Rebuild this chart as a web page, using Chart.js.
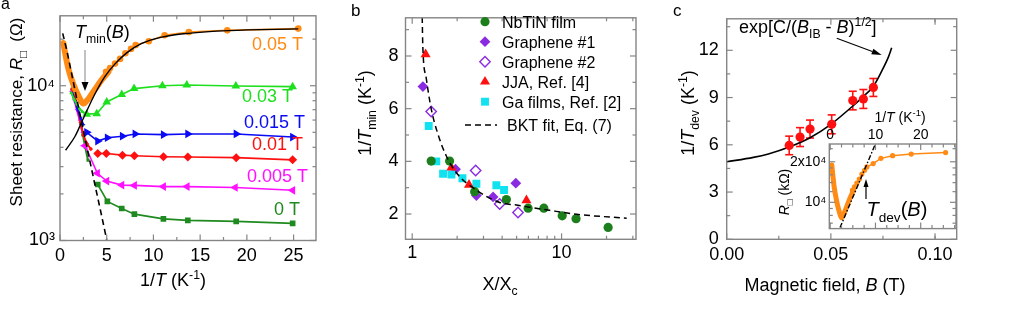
<!DOCTYPE html>
<html><head><meta charset="utf-8">
<script src="https://cdn.jsdelivr.net/npm/chart.js@4.4.1/dist/chart.umd.min.js"></script>
<style>
html,body{margin:0;padding:0;background:#fff;}
#wrap{position:relative;width:1035px;height:316px;overflow:hidden;background:#fff;}
canvas{position:absolute;}
</style></head><body>
<div id="wrap">
<canvas id="ca" width="345" height="316" style="left:0;top:0;width:345px;height:316px"></canvas>
<canvas id="cb" width="345" height="316" style="left:345px;top:0;width:345px;height:316px"></canvas>
<canvas id="cc" width="385" height="316" style="left:650px;top:0;width:385px;height:316px"></canvas>
<canvas id="ci" width="190" height="140" style="left:770px;top:100px;width:190px;height:140px"></canvas>
</div>
<script>
// ================= DATA =================
// ---- panel a: sheet resistance vs 1/T ----
const aXTicks = [0, 5, 10, 15, 20, 25];
const aXTickLabels = ['0', '5', '10', '15', '20', '25'];
const aXMinor = [2.5, 7.5, 12.5, 17.5, 22.5];
const aYTicks = [1000, 10000];
const aYTickLabels = ['10³', '10⁴'];
const aYMinor = [2000, 3000, 4000, 5000, 6000, 7000, 8000, 9000, 20000];

const a005DenseX = [0.36, 0.54, 0.89, 1.43, 1.96, 2.5, 3.04, 3.75, 4.46, 5.18];
const a005DenseY = [18900, 16400, 12900, 10200, 8630, 7670, 8230, 9480, 10900, 12300];
const a005X = [4.93, 5.36, 5.89, 6.43, 7.0, 7.6, 8.1, 9.5, 11.2, 13.8, 17.9, 25.5];
const a005Y = [12300, 13000, 13900, 14900, 16200, 17300, 18300, 19400, 21200, 22200, 22800, 23400];

const a003DenseX = [1.2, 1.5, 1.8, 2.1, 2.4, 2.7];
const a003DenseY = [9000, 8200, 7600, 7100, 6800, 6600];
const a003X = [2.86, 3.93, 5.0, 6.61, 7.93, 10.96, 13.57, 18.82, 24.9];
const a003Y = [6550, 6600, 7850, 8770, 9580, 10000, 10100, 9960, 9860];

const a0015DenseX = [1.3, 1.6, 1.9, 2.2, 2.5];
const a0015DenseY = [9000, 8000, 7000, 6200, 5600];
const a0015X = [2.86, 4.04, 5.07, 6.68, 8.04, 11.07, 13.68, 18.86, 24.9];
const a0015Y = [5000, 4390, 4610, 4720, 4880, 4830, 4880, 4880, 4660];

const a001DenseX = [1.3, 1.6, 1.9, 2.2, 2.5, 2.9, 3.3];
const a001DenseY = [9500, 8500, 7200, 5800, 4800, 4200, 3900];
const a001X = [4.04, 4.96, 6.68, 7.96, 11.07, 13.68, 18.86, 24.9];
const a001Y = [3650, 3650, 3560, 3530, 3480, 3460, 3430, 3320];

const a0005DenseX = [1.2, 1.5, 1.8, 2.1, 2.4];
const a0005DenseY = [9200, 8200, 7000, 6000, 5000];
const a0005X = [2.68, 4.0, 5.0, 6.61, 7.96, 11.07, 13.6, 18.75, 24.9];
const a0005Y = [4100, 2720, 2420, 2280, 2270, 2230, 2230, 2200, 2110];

const a0DenseX = [1.3, 1.6, 1.9, 2.2, 2.45, 2.7, 3.0];
const a0DenseY = [9500, 8400, 7000, 5700, 4800, 4000, 3300];
const a0X = [4.04, 5.07, 6.61, 7.96, 11.07, 13.68, 18.86, 24.9];
const a0Y = [2300, 1790, 1610, 1480, 1380, 1350, 1330, 1290];

const aFitX = [0.6, 1.6, 2.14, 2.68, 3.75, 4.82, 5.89, 7.14, 8.75, 10.9, 13.75, 18, 25.5];
const aFitY = [3830, 4700, 5500, 6500, 8870, 11480, 13840, 16300, 18750, 20600, 21800, 22700, 23300];
const aDashX = [0.29, 0.75, 1.29, 1.93, 2.57, 3.21, 3.86, 4.45, 5.0];
const aDashY = [21800, 16700, 11600, 7500, 4920, 3230, 2120, 1450, 1010];

// ---- panel b: 1/Tmin vs X/Xc ----
const bXTicks = [1, 10];
const bXTickLabels = ['1', '10'];
const bXMinor = [2, 3, 4, 5, 6, 7, 8, 9, 20, 30];
const bYTicks = [2, 4, 6, 8];
const bYTickLabels = ['2', '4', '6', '8'];
const bYMinor = [1, 3, 5, 7, 9];

const bNbTiNX = [1.34, 1.78, 2.62, 4.27, 5.97, 7.61, 10.1, 12.5, 20.5];
const bNbTiNY = [4.01, 4.01, 2.85, 2.55, 2.22, 2.22, 1.93, 1.82, 1.49];
const bGr1X = [1.18, 1.95, 2.69, 3.48, 4.94];
const bGr1Y = [6.84, 3.70, 2.70, 2.65, 3.17];
const bGr2X = [1.34, 2.66, 3.85, 5.11];
const bGr2Y = [5.89, 3.65, 2.38, 2.06];
const bJJAX = [1.23, 1.83, 2.40, 5.82];
const bJJAY = [8.06, 3.76, 3.11, 2.52];
const bGaX = [1.29, 1.45, 1.61, 1.83, 2.17, 2.69, 3.66, 4.12];
const bGaY = [5.34, 4.00, 3.53, 3.50, 3.36, 3.15, 3.09, 2.91];
const bFitX = [1.167, 1.178, 1.241, 1.341, 1.486, 1.69, 2.02, 2.69, 3.85, 4.99, 8.3, 12.6, 27.3];
const bFitY = [9.48, 8.35, 7.17, 5.99, 5.04, 4.21, 3.50, 2.91, 2.44, 2.34, 2.14, 1.99, 1.84];
const bLegend = ['NbTiN film', 'Graphene #1', 'Graphene #2', 'JJA, Ref. [4]', 'Ga films, Ref. [2]', 'BKT fit, Eq. (7)'];

// ---- panel c: 1/Tdev vs B ----
const cXTicks = [0, 0.05, 0.10];
const cXTickLabels = ['0.00', '0.05', '0.10'];
const cXMinor = [0.025, 0.075, 0.1];
const cYTicks = [0, 3, 6, 9, 12];
const cYTickLabels = ['0', '3', '6', '9', '12'];
const cYMinor = [1.5, 4.5, 7.5, 10.5, 13.5];
const cB = [0.030, 0.0352, 0.040, 0.0504, 0.0605, 0.0656, 0.0704];
const cInvT = [5.96, 6.49, 7.00, 7.30, 8.81, 8.91, 9.64];
const cErr = [0.59, 0.60, 0.57, 0.60, 0.59, 0.60, 0.57];
const cFitX = [0, 0.0128, 0.02, 0.03, 0.04, 0.05, 0.06, 0.065, 0.0704, 0.0744, 0.0776, 0.0792];
const cFitY = [4.92, 5.2, 5.42, 5.86, 6.45, 7.3, 8.4, 9.0, 9.72, 10.68, 11.57, 12.16];

// ---- inset of c ----
const iXTicks = [0, 10, 20];
const iXTickLabels = ['0', '10', '20'];
const iXMinor = [2.5, 5, 7.5, 12.5, 15, 17.5, 22.5, 25, 27.5];
const iYTicks = [10000, 20000];
const iYTickLabels = ['10⁴', '2x10⁴'];
const iYMinor = [7000, 8000, 9000, 12000, 14000, 16000, 18000, 25000];
const iDashX = [2.17, 9.9];
const iDashY = [6490, 26700];

// ================= HELPERS =================
const FONT = '"Liberation Sans", Arial, Helvetica, sans-serif';
Chart.defaults.font.family = FONT;
Chart.defaults.color = '#000';
const pts = (xs, ys) => xs.map((x, i) => ({x: x, y: ys[i]}));
const GRAY = '#858585';

function drawRich(ctx, runs, x, y, o) {
  const size = o.size || 18;
  ctx.save();
  ctx.translate(x, y);
  if (o.rot) ctx.rotate(o.rot);
  const segs = runs.map(r => {
    if (typeof r === 'string') r = {t: r};
    const s = (r.sub || r.sup) ? size * 0.68 : size;
    const f = (r.i ? 'italic ' : '') + s + 'px ' + FONT;
    ctx.font = f;
    return {t: r.t, f: f, w: ctx.measureText(r.t).width, dy: r.sub ? size * 0.3 : (r.sup ? -size * 0.4 : 0)};
  });
  const total = segs.reduce((a, s) => a + s.w, 0);
  let cx = o.align === 'center' ? -total / 2 : (o.align === 'right' ? -total : 0);
  ctx.fillStyle = o.color || '#000';
  ctx.textBaseline = 'alphabetic';
  ctx.textAlign = 'left';
  for (const s of segs) { ctx.font = s.f; ctx.fillText(s.t, cx, s.dy); cx += s.w; }
  ctx.restore();
}
function line(ctx, x1, y1, x2, y2) { ctx.beginPath(); ctx.moveTo(x1, y1); ctx.lineTo(x2, y2); ctx.stroke(); }
function arrow(ctx, x1, y1, x2, y2, color, headL, headW, lineColor) {
  ctx.save();
  ctx.strokeStyle = lineColor || color; ctx.fillStyle = color; ctx.lineWidth = 1.2;
  const ang = Math.atan2(y2 - y1, x2 - x1);
  const bx = x2 - Math.cos(ang) * headL, by = y2 - Math.sin(ang) * headL;
  line(ctx, x1, y1, bx, by);
  ctx.beginPath();
  ctx.moveTo(x2, y2);
  ctx.lineTo(bx + Math.sin(ang) * headW / 2, by - Math.cos(ang) * headW / 2);
  ctx.lineTo(bx - Math.sin(ang) * headW / 2, by + Math.cos(ang) * headW / 2);
  ctx.closePath(); ctx.fill();
  ctx.restore();
}

// frame + inward ticks + texts
function panelPlugin(spec) {
  return {
    id: 'panel_' + spec.name,
    beforeDatasetsDraw(chart) {
      const ctx = chart.ctx, a = chart.chartArea;
      if (spec.bg) { ctx.save(); ctx.fillStyle = '#fff'; ctx.fillRect(a.left, a.top, a.right - a.left, a.bottom - a.top); ctx.restore(); }
      if (spec.under) { ctx.save(); ctx.translate(-spec.ox, -spec.oy); spec.under(ctx, chart); ctx.restore(); }
    },
    afterDatasetsDraw(chart) {
      const ctx = chart.ctx, a = chart.chartArea;
      const xs = chart.scales.x, ys = chart.scales.y;
      ctx.save();
      ctx.strokeStyle = GRAY; ctx.lineWidth = 1.4;
      ctx.strokeRect(a.left, a.top, a.right - a.left, a.bottom - a.top);
      ctx.lineWidth = 1.2;
      const tx = (vals, len) => vals.forEach(v => {
        if (v < xs.min || v > xs.max) return;
        const p = xs.getPixelForValue(v);
        line(ctx, p, a.bottom, p, a.bottom - len); line(ctx, p, a.top, p, a.top + len);
      });
      const ty = (vals, len) => vals.forEach(v => {
        if (v < ys.min || v > ys.max) return;
        const p = ys.getPixelForValue(v);
        line(ctx, a.left, p, a.left + len, p); line(ctx, a.right, p, a.right - len, p);
      });
      tx(spec.xMajor, 6); tx(spec.xMinor, 3.5); ty(spec.yMajor, 6); ty(spec.yMinor, 3.5);
      ctx.restore();
      if (spec.texts) { ctx.save(); ctx.translate(-spec.ox, -spec.oy); spec.texts(ctx, chart); ctx.restore(); }
    }
  };
}

function scaleCfg(type, min, max, ticks, labels, fitSize, isX, fontSize, pad, position) {
  const c = {
    type: type, min: min, max: max,
    grid: {display: false, drawTicks: false}, border: {display: false},
    afterBuildTicks: s => { s.ticks = ticks.map(v => ({value: v})); },
    ticks: {font: {size: fontSize, family: FONT}, color: '#000', padding: pad, autoSkip: false, maxRotation: 0,
            callback: (v, i) => labels[i]},
  };
  if (position) c.position = position;
  if (isX) c.afterFit = s => { s.height = fitSize; }; else c.afterFit = s => { s.width = fitSize; };
  return c;
}
const baseOpts = (pad) => ({
  responsive: false, animation: false, devicePixelRatio: 1,
  layout: {padding: pad},
  plugins: {legend: {display: false}, tooltip: {enabled: false}},
  elements: {line: {tension: 0}},
});

// colors
const ORANGE = '#ff8a14', LGREEN = '#1fe01f', BLUE = '#0a0af5', RED = '#ff1010', MAG = '#ff10ff', DGREEN = '#1f8a1f';
const PURPLE = '#8a2be2', CYAN = '#12e2ef', BGREEN = '#1c7f1c';

function dense(xs, ys, color, style, rot) {
  return {data: pts(xs, ys), showLine: true, borderColor: color, backgroundColor: color, borderWidth: 2,
          pointStyle: style, pointRotation: rot || 0, pointRadius: 2.2, pointBorderWidth: 0};
}
function sparse(xs, ys, color, style, r, rot) {
  return {data: pts(xs, ys), showLine: true, borderColor: color, backgroundColor: color, borderWidth: 1.6,
          pointStyle: style, pointRotation: rot || 0, pointRadius: r, pointBorderWidth: 0};
}

// ================= PANEL A =================
new Chart(document.getElementById('ca'), {
  type: 'scatter',
  data: {datasets: [
    {data: pts(aDashX, aDashY), showLine: true, borderColor: '#000', borderWidth: 1.6, borderDash: [6, 4], pointRadius: 0},
    {data: pts(aFitX, aFitY), showLine: true, borderColor: '#000', borderWidth: 1.4, pointRadius: 0, cubicInterpolationMode: 'monotone'},
    {data: pts(a005DenseX, a005DenseY), showLine: true, borderColor: ORANGE, borderWidth: 6, pointRadius: 0, borderCapStyle: 'round', borderJoinStyle: 'round', cubicInterpolationMode: 'monotone'},
    sparse(a005X, a005Y, ORANGE, 'circle', 3.3),
    sparse(a003X, a003Y, LGREEN, 'triangle', 5),
    dense(a003DenseX, a003DenseY, LGREEN, 'triangle'),
    sparse(a0015X, a0015Y, BLUE, 'triangle', 5, 90),
    dense(a0015DenseX, a0015DenseY, BLUE, 'triangle', 90),
    sparse(a001X, a001Y, RED, 'rectRot', 4.5),
    dense(a001DenseX, a001DenseY, RED, 'rectRot'),
    sparse(a0005X, a0005Y, MAG, 'triangle', 5, -90),
    dense(a0005DenseX, a0005DenseY, MAG, 'triangle', -90),
    sparse(a0X, a0Y, DGREEN, 'rect', 4),
    dense(a0DenseX, a0DenseY, DGREEN, 'rect'),
  ]},
  options: Object.assign(baseOpts({left: 0, right: 29, top: 2.5, bottom: 0}), {
    scales: {
      x: scaleCfg('linear', 0, 27.4, aXTicks, aXTickLabels, 75.5, true, 18, 5),
      y: scaleCfg('logarithmic', 1000, 28300, aYTicks, aYTickLabels, 60, false, 18, 5),
    }
  }),
  plugins: [panelPlugin({name: 'a', ox: 0, oy: 0, xMajor: aXTicks, xMinor: aXMinor, yMajor: aYTicks, yMinor: aYMinor,
    texts(ctx) {
      drawRich(ctx, ['a'], 1, 9, {size: 16});
      drawRich(ctx, ['Sheet resistance, ', {t: 'R', i: 1}, {t: '□', sub: 1}, '  (Ω)'], 22, 112, {size: 17, align: 'center', rot: -Math.PI / 2});
      drawRich(ctx, ['1/', {t: 'T', i: 1}, ' (K', {t: '-1', sup: 1}, ')'], 173, 286, {size: 18, align: 'center'});
      drawRich(ctx, ['0.05 T'], 303, 50, {size: 18, align: 'right', color: ORANGE});
      drawRich(ctx, ['0.03 T'], 293, 101.5, {size: 18, align: 'right', color: LGREEN});
      drawRich(ctx, ['0.015 T'], 305, 128, {size: 18, align: 'right', color: BLUE});
      drawRich(ctx, ['0.01 T'], 303, 150, {size: 18, align: 'right', color: RED});
      drawRich(ctx, ['0.005 T'], 308, 181.5, {size: 18, align: 'right', color: MAG});
      drawRich(ctx, ['0 T'], 300, 215, {size: 18, align: 'right', color: DGREEN});
      drawRich(ctx, [{t: 'T', i: 1}, {t: 'min', sub: 1}, '(', {t: 'B', i: 1}, ')'], 75, 38, {size: 18});
      arrow(ctx, 85, 50, 85, 91, '#000', 9, 7, '#999');
    }
  })]
});

// ================= PANEL B =================
const bSets = [
  {label: bLegend[5], data: pts(bFitX, bFitY), showLine: true, borderColor: '#000', borderWidth: 1.5, borderDash: [6, 4], pointRadius: 0, cubicInterpolationMode: 'monotone'},
  {label: bLegend[0], data: pts(bNbTiNX, bNbTiNY), backgroundColor: BGREEN, borderColor: BGREEN, pointStyle: 'circle', pointRadius: 4.6, pointBorderWidth: 0},
  {label: bLegend[3], data: pts(bJJAX, bJJAY), backgroundColor: RED, borderColor: RED, pointStyle: 'triangle', pointRadius: 5.8, pointBorderWidth: 0},
  {label: bLegend[4], data: pts(bGaX, bGaY), backgroundColor: CYAN, borderColor: CYAN, pointStyle: 'rect', pointRadius: 5.6, pointBorderWidth: 0},
  {label: bLegend[2], data: pts(bGr2X, bGr2Y), backgroundColor: '#fff', borderColor: PURPLE, pointStyle: 'rectRot', pointRadius: 5.2, pointBorderWidth: 1.4},
  {label: bLegend[1], data: pts(bGr1X, bGr1Y), backgroundColor: PURPLE, borderColor: PURPLE, pointStyle: 'rectRot', pointRadius: 5.4, pointBorderWidth: 0},
];
new Chart(document.getElementById('cb'), {
  type: 'scatter',
  data: {datasets: bSets},
  options: Object.assign(baseOpts({left: 0, right: 54, top: 2.5, bottom: 0}), {
    scales: {
      x: scaleCfg('logarithmic', 0.902, 31.5, bXTicks, bXTickLabels, 76.7, true, 18, 3),
      y: scaleCfg('linear', 1.04, 9.45, bYTicks, bYTickLabels, 60.5, false, 18, 7),
    }
  }),
  plugins: [panelPlugin({name: 'b', ox: 345, oy: 0, xMajor: bXTicks, xMinor: bXMinor, yMajor: bYTicks, yMinor: bYMinor,
    texts(ctx, chart) {
      drawRich(ctx, ['b'], 351, 16, {size: 17});
      drawRich(ctx, ['1/', {t: 'T', i: 1}, {t: 'min', sub: 1}, ' (K', {t: '-1', sup: 1}, ')'], 371, 113, {size: 18, align: 'center', rot: -Math.PI / 2});
      drawRich(ctx, ['X/X', {t: 'c', sub: 1}], 500, 290, {size: 18, align: 'center'});
      // legend built from dataset styles
      const order = [1, 5, 4, 2, 3];
      order.forEach((di, k) => {
        const ds = chart.data.datasets[di];
        const y = 21.7 + 20 * k;
        ctx.save();
        ctx.fillStyle = ds.backgroundColor; ctx.strokeStyle = ds.borderColor; ctx.lineWidth = ds.pointBorderWidth || 0.01;
        Chart.helpers.drawPoint(ctx, {pointStyle: ds.pointStyle, radius: ds.pointRadius, rotation: 0, borderWidth: ds.pointBorderWidth || 0}, 485, y);
        ctx.restore();
        drawRich(ctx, [ds.label], 502, y + 6, {size: 16});
      });
      ctx.save(); ctx.strokeStyle = '#000'; ctx.lineWidth = 1.5; ctx.setLineDash([6, 4]);
      line(ctx, 465, 125, 497, 125); ctx.restore();
      drawRich(ctx, [bSets[0].label], 507, 131, {size: 16});
    }
  })]
});

// ================= PANEL C =================
new Chart(document.getElementById('cc'), {
  type: 'scatter',
  data: {datasets: [
    {data: pts(cB, cInvT), backgroundColor: RED, borderColor: RED, pointStyle: 'circle', pointRadius: 4.6, pointBorderWidth: 0},
    {data: pts(cFitX, cFitY), showLine: true, borderColor: '#000', borderWidth: 1.6, pointRadius: 0, cubicInterpolationMode: 'monotone'},
  ]},
  options: Object.assign(baseOpts({left: 0, right: 78.3, top: 2.5, bottom: 0}), {
    scales: {
      x: scaleCfg('linear', 0, 0.1104, cXTicks, cXTickLabels, 76.7, true, 18, 5),
      y: scaleCfg('linear', 0, 14, cYTicks, cYTickLabels, 76.7, false, 18, 8),
    }
  }),
  plugins: [panelPlugin({name: 'c', ox: 650, oy: 0, xMajor: cXTicks, xMinor: cXMinor, yMajor: cYTicks, yMinor: cYMinor,
    under(ctx, chart) {
      const xs = chart.scales.x, ys = chart.scales.y;
      ctx.save(); ctx.translate(650, 0);
      ctx.strokeStyle = RED; ctx.lineWidth = 1.6;
      cB.forEach((b, i) => {
        const x = xs.getPixelForValue(b);
        const y1 = ys.getPixelForValue(cInvT[i] - cErr[i]), y2 = ys.getPixelForValue(cInvT[i] + cErr[i]);
        line(ctx, x, y1, x, y2); line(ctx, x - 4, y1, x + 4, y1); line(ctx, x - 4, y2, x + 4, y2);
      });
      ctx.restore();
    },
    texts(ctx) {
      drawRich(ctx, ['c'], 673, 16, {size: 17});
      drawRich(ctx, ['1/', {t: 'T', i: 1}, {t: 'dev', sub: 1}, ' (K', {t: '-1', sup: 1}, ')'], 694, 113, {size: 18, align: 'center', rot: -Math.PI / 2});
      drawRich(ctx, ['Magnetic field, ', {t: 'B', i: 1}, ' (T)'], 825, 291, {size: 18, align: 'center'});
      drawRich(ctx, ['exp[C/(', {t: 'B', i: 1}, {t: 'IB', sub: 1}, ' - ', {t: 'B', i: 1}, ')', {t: '1/2', sup: 1}, ']'], 739, 33, {size: 18});
      arrow(ctx, 836.7, 38.3, 881.7, 55, '#000', 10, 6);
    }
  })]
});

// ================= INSET =================
new Chart(document.getElementById('ci'), {
  type: 'scatter',
  data: {datasets: [
    {data: pts(iDashX, iDashY), showLine: true, borderColor: '#000', borderWidth: 1.4, borderDash: [5, 2, 1.5, 2], pointRadius: 0},
    {data: pts(a005DenseX, a005DenseY), showLine: true, borderColor: ORANGE, borderWidth: 5, pointRadius: 0, borderCapStyle: 'round', borderJoinStyle: 'round', cubicInterpolationMode: 'monotone'},
    {data: pts(a005X, a005Y), showLine: true, borderColor: ORANGE, backgroundColor: ORANGE, borderWidth: 1.5, pointStyle: 'circle', pointRadius: 2.6, pointBorderWidth: 0},
  ]},
  options: Object.assign(baseOpts({left: 0, right: 4, top: 0, bottom: 9}), {
    scales: {
      x: scaleCfg('linear', -0.2, 27.8, iXTicks, iXTickLabels, 44, true, 14, 0, 'top'),
      y: scaleCfg('logarithmic', 6380, 27100, iYTicks, iYTickLabels, 59.3, false, 14, 3),
    }
  }),
  plugins: [panelPlugin({name: 'i', ox: 770, oy: 100, bg: true, xMajor: iXTicks, xMinor: iXMinor, yMajor: iYTicks, yMinor: iYMinor,
    texts(ctx) {
      drawRich(ctx, ['1/', {t: 'T', i: 1}, ' (K', {t: '-1', sup: 1}, ')'], 900, 122, {size: 14, align: 'center'});
      drawRich(ctx, [{t: 'R', i: 1}, {t: '□', sub: 1}, ' (kΩ)'], 789, 192, {size: 14, align: 'center', rot: -Math.PI / 2});
      drawRich(ctx, [{t: 'T', i: 1}, {t: 'dev', sub: 1}, '(', {t: 'B', i: 1}, ')'], 866.5, 216, {size: 20});
      arrow(ctx, 866, 199, 866, 179, '#000', 8, 5);
    }
  })]
});
</script>
</body></html>
